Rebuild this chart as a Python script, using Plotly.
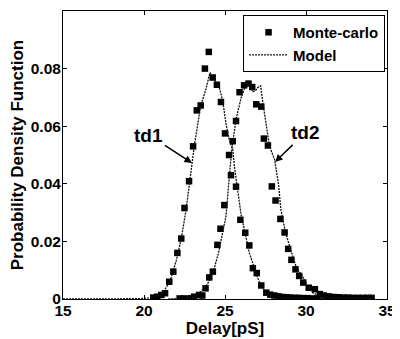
import plotly.graph_objects as go

# Monte-carlo samples (td1)
mc1_x = [20.57, 20.82, 21.07, 21.30, 21.56, 21.81, 22.06, 22.30, 22.50, 22.78,
         23.03, 23.26, 23.50, 23.76, 24.00, 24.24, 24.50, 24.75, 25.00, 25.25,
         25.68, 25.95, 26.25, 26.50, 26.72, 26.96, 27.24, 27.55, 27.80, 28.05,
         28.30, 28.55, 28.80, 29.05, 29.30, 29.55, 29.80, 30.10, 30.40, 30.70]
mc1_y = [0.0005, 0.0008, 0.0014, 0.0020, 0.0060, 0.0095, 0.0160, 0.0210, 0.0316, 0.0409,
         0.0530, 0.0655, 0.0672, 0.0800, 0.0858, 0.0769, 0.0744, 0.0684, 0.0575, 0.0500,
         0.0390, 0.0275, 0.0230, 0.0186, 0.0107, 0.0090, 0.0047, 0.0022, 0.0015, 0.0012,
         0.0009, 0.0007, 0.0006, 0.0005, 0.0004, 0.0004, 0.0003, 0.0003, 0.0002, 0.0002]

# Monte-carlo samples (td2)
mc2_x = [22.20, 22.50, 22.90, 23.10, 23.40, 23.60, 23.80, 24.03, 24.25, 24.53,
         24.72, 24.96, 25.37, 25.48, 25.68, 25.90, 26.18, 26.45, 26.68, 26.93,
         27.24, 27.40, 27.65, 27.89, 28.12, 28.42, 28.68, 28.90, 29.10, 29.35,
         29.58, 29.83, 30.17, 30.55, 30.86, 31.10, 31.40, 31.70, 32.00, 32.30,
         32.60, 32.90, 33.20, 33.50, 33.80, 34.05]
mc2_y = [0.0002, 0.0002, 0.0003, 0.0008, 0.0014, 0.0012, 0.0037, 0.0075, 0.0095, 0.0188,
         0.0244, 0.0326, 0.0430, 0.0548, 0.0618, 0.0718, 0.0742, 0.0748, 0.0736, 0.0676,
         0.0668, 0.0557, 0.0533, 0.0391, 0.0342, 0.0278, 0.0231, 0.0174, 0.0136, 0.0103,
         0.0080, 0.0057, 0.0039, 0.0034, 0.0017, 0.0012, 0.0009, 0.0007, 0.0006, 0.0005,
         0.0005, 0.0004, 0.0004, 0.0004, 0.0004, 0.0004]

# Model curves
model1_x = [15, 19.0, 19.8, 20.3, 20.8, 21.2, 21.6, 22.0, 22.3, 22.6, 22.8, 23.1, 23.5,
            23.82, 24.07, 24.3, 24.65, 24.85, 25.06, 25.27, 25.48, 25.58, 25.8, 26.0,
            26.2, 26.5, 26.8, 27.0, 27.25, 27.5, 27.8, 28.2, 28.8, 29.5, 30.5, 34]
model1_y = [0, 0, 0.0001, 0.0004, 0.001, 0.0025, 0.006, 0.0135, 0.021, 0.031, 0.040, 0.053, 0.067,
            0.0728, 0.0786, 0.0765, 0.0734, 0.069, 0.061, 0.055, 0.052, 0.046, 0.036, 0.029,
            0.024, 0.016, 0.011, 0.0075, 0.0043, 0.0025, 0.0012, 0.0005, 0.0002, 0.0001, 0, 0]

model2_x = [21.5, 22.5, 23.0, 23.4, 23.8, 24.0, 24.3, 24.6, 24.75, 25.06, 25.23, 25.4,
            25.68, 26.0, 26.2, 26.45, 26.72, 26.9, 27.03, 27.2, 27.34, 27.55, 27.75, 28.06,
            28.3, 28.45, 28.7, 29.0, 29.4, 29.8, 30.1, 30.45, 31.0, 31.6, 32.5, 34]
model2_y = [0, 0.0002, 0.0005, 0.002, 0.0043, 0.006, 0.010, 0.016, 0.0206, 0.0287, 0.040, 0.051,
            0.0624, 0.070, 0.073, 0.075, 0.072, 0.0725, 0.0734, 0.074, 0.068, 0.060, 0.053, 0.0484,
            0.040, 0.031, 0.024, 0.018, 0.011, 0.0078, 0.0045, 0.002, 0.0008, 0.0004, 0.0002, 0.0001]

x_ticks = [15, 20, 25, 30, 35]
y_ticks = [0, 0.02, 0.04, 0.06, 0.08, 0.1]
y_tick_text = ["0", "0.02", "0.04", "0.06", "0.08", "0.1"]

FONT = "Liberation Sans, Arial, sans-serif"
line_style = dict(color="#111111", width=1.3, dash="2px,1px")
marker_style = dict(symbol="square", size=6.5, color="black")

fig = go.Figure()
fig.add_trace(go.Scatter(x=mc1_x, y=mc1_y, mode="markers", name="Monte-carlo",
                         marker=marker_style, legendgroup="mc"))
fig.add_trace(go.Scatter(x=model1_x, y=model1_y, mode="lines", name="Model",
                         line=line_style, legendgroup="model"))
fig.add_trace(go.Scatter(x=mc2_x, y=mc2_y, mode="markers", name="Monte-carlo",
                         marker=marker_style, legendgroup="mc", showlegend=False))
fig.add_trace(go.Scatter(x=model2_x, y=model2_y, mode="lines", name="Model",
                         line=line_style, legendgroup="model", showlegend=False))

axis_common = dict(showgrid=False, zeroline=False, showline=True, linecolor="black",
                   linewidth=1, mirror="ticks", ticks="inside", ticklen=4,
                   tickcolor="black", automargin=False,
                   tickfont=dict(family=FONT, size=15.5, color="black", weight="bold"))

fig.update_xaxes(range=[15, 35], tickvals=x_ticks, ticklabelstandoff=-3, **axis_common,
                 title=dict(text="<b>Delay[pS]</b>", standoff=2,
                            font=dict(family=FONT, size=17, color="black")))
fig.update_yaxes(range=[0, 0.1], tickvals=y_ticks, ticktext=y_tick_text,
                 ticklabelstandoff=-2, **axis_common,
                 title=dict(text="<b>Probability Density Function</b>", standoff=7,
                            font=dict(family=FONT, size=17, color="black")))

fig.add_annotation(x=22.96, y=0.0472, ax=-43, ay=-28, text="<b>td1</b>",
                   showarrow=True, arrowhead=2, arrowsize=1, arrowwidth=1.5,
                   arrowcolor="black", font=dict(family=FONT, size=19, color="black"))
fig.add_annotation(x=28.09, y=0.0476, ax=30, ay=-29, text="<b>td2</b>",
                   showarrow=True, arrowhead=2, arrowsize=1, arrowwidth=1.5,
                   arrowcolor="black", font=dict(family=FONT, size=19, color="black"))

# The page body adds an 8px offset, so the figure is sized to fit the window.
fig.update_layout(
    width=392, height=331,
    margin=dict(l=55, r=13, t=3, b=40, autoexpand=False),
    paper_bgcolor="white", plot_bgcolor="white",
    legend=dict(x=0.994, y=0.986, xanchor="right", yanchor="top",
                bgcolor="white", bordercolor="black", borderwidth=1,
                itemwidth=39,
                font=dict(family=FONT, size=15, color="black", weight="bold"),
                tracegroupgap=0),
    showlegend=True,
)

fig.write_html("out.html")
